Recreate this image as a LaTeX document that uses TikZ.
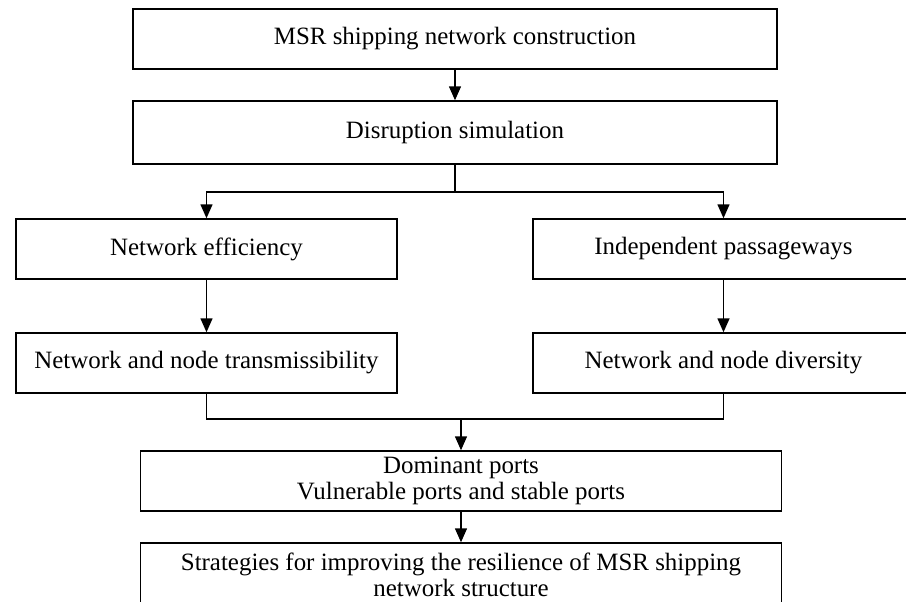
\documentclass[tikz,border=0pt]{standalone}
\usepackage{fontspec}
\setmainfont{Liberation Serif}
\usepackage{tikz}
\usetikzlibrary{arrows.meta}
\tikzset{
  box/.style={draw=black, line width=1.1pt, fill=white, align=center, inner sep=0pt,
    font=\fontsize{18.7pt}{19.5pt}\selectfont},
  wide/.style={box, minimum width=483pt, minimum height=45pt},
  half/.style={box, minimum width=285.75pt, minimum height=45pt},
  link/.style={draw=black, line width=1.1pt},
  arr/.style={link, -{Triangle[length=10.5pt, width=9pt]}},
}
\begin{document}
\begin{tikzpicture}[x=0.75pt, y=-0.75pt]
  \useasboundingbox (0,0) rectangle (906,601);
  % top chain
  \node[wide] (build) at (455,39) {MSR shipping network construction};
  \node[wide, minimum height=47.25pt] (disrupt) at (455,132.5) {Disruption simulation};
  % two branches
  \node[half] (eff) at (206.5,249) {Network efficiency};
  \node[half] (indep) at (723.5,249) {Independent passageways};
  \node[half] (trans) at (206.5,363) {Network and node transmissibility};
  \node[half] (diver) at (723.5,363) {Network and node diversity};
  % results
  \node[wide, minimum width=480.75pt] (ports) at (461,481) {Dominant ports\\Vulnerable ports and stable ports};
  \node[wide, minimum width=480.75pt, minimum height=48pt] (strat) at (461,575)
    {Strategies for improving the resilience of MSR shipping\\network structure};
  \coordinate (split) at (455,192);
  \coordinate (merge) at (461,419);
  \draw[arr] (build) -- (disrupt);
  \draw[link] (disrupt) -- (split);
  \draw[arr] (split) -| (eff);
  \draw[arr] (split) -| (indep);
  \draw[arr] (eff) -- (trans);
  \draw[arr] (indep) -- (diver);
  \draw[link] (trans) |- (merge);
  \draw[link] (diver) |- (merge);
  \draw[arr] (merge) -- (ports);
  \draw[arr] (ports) -- (strat);
\end{tikzpicture}
\end{document}
